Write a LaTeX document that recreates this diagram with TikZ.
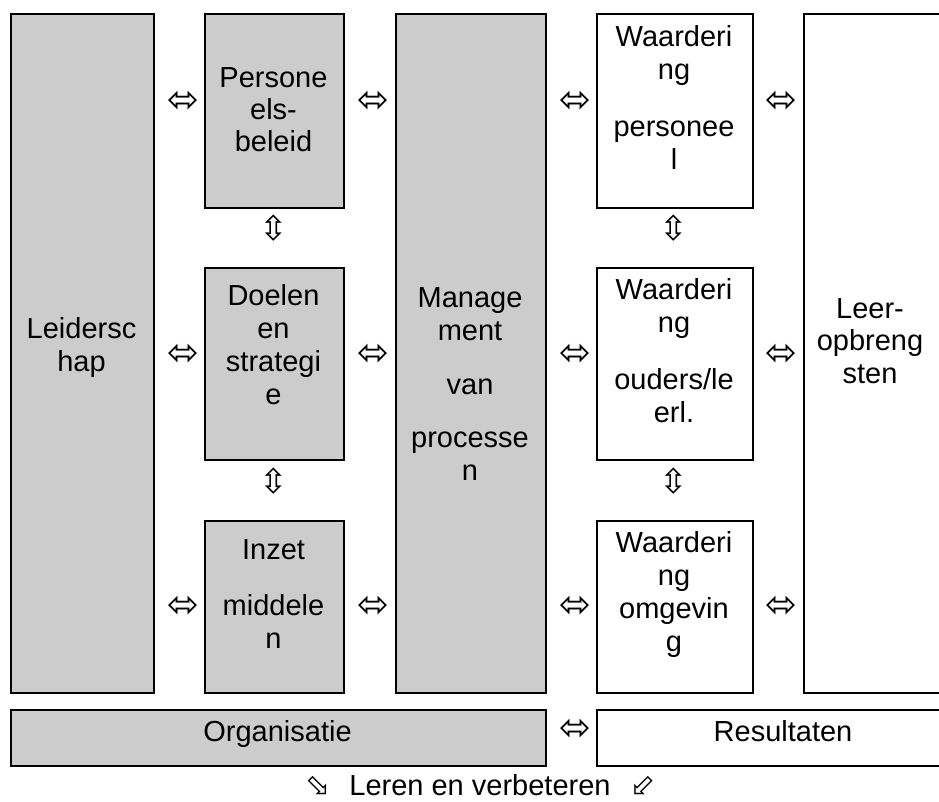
\documentclass[tikz,border=0pt]{standalone}
\usepackage{fontspec}
\setmainfont{Liberation Sans}
\newfontfamily\symfont{DejaVu Sans}
\definecolor{boxgray}{RGB}{204,204,204}
\begin{document}
\begin{tikzpicture}[x=1pt,y=-1pt,
  box/.style={draw=black, line width=2pt, inner sep=0pt, anchor=north west},
  gbox/.style={box, fill=boxgray},
  wbox/.style={box, fill=white},
  txt/.style={anchor=base, inner sep=0pt, font=\fontsize{29}{33}\selectfont},
  harr/.style={inner sep=0pt, font=\symfont\fontsize{38}{38}\selectfont},
  varr/.style={inner sep=0pt, font=\symfont\fontsize{34}{34}\selectfont},
  darr/.style={inner sep=0pt, font=\symfont\fontsize{30}{30}\selectfont}]
\useasboundingbox (0,0) rectangle (939,802);
\clip (0,0) rectangle (939,802);
% boxes
\node[gbox, minimum width=143pt, minimum height=679pt] (lead) at (10,13) {};
\node[gbox, minimum width=139pt, minimum height=194pt] (pers) at (204,13) {};
\node[gbox, minimum width=139pt, minimum height=192pt] (doel) at (204,267) {};
\node[gbox, minimum width=139pt, minimum height=172pt] (inz) at (204,520) {};
\node[gbox, minimum width=150pt, minimum height=679pt] (mgmt) at (395,13) {};
\node[wbox, minimum width=156pt, minimum height=194pt] (wp) at (596,13) {};
\node[wbox, minimum width=156pt, minimum height=192pt] (wo) at (596,267) {};
\node[wbox, minimum width=156pt, minimum height=172pt] (wm) at (596,520) {};
\node[wbox, minimum width=160pt, minimum height=679pt] (leer) at (803,13) {};
\node[gbox, minimum width=535pt, minimum height=56pt] (org) at (10,709) {};
\node[wbox, minimum width=380pt, minimum height=56pt] (res) at (596,709) {};
% texts
\node[txt] (t-lead1) at (81.5,338) {Leidersc};
\node[txt] (t-lead2) at (81.5,371) {hap};
\node[txt] (t-pers1) at (273.5,88) {Persone};
\node[txt] (t-pers2) at (273.5,120) {els-};
\node[txt] (t-pers3) at (273.5,152) {beleid};
\node[txt] (t-doel1) at (273.5,305) {Doelen};
\node[txt] (t-doel2) at (273.5,338) {en};
\node[txt] (t-doel3) at (273.5,371) {strategi};
\node[txt] (t-doel4) at (273.5,404) {e};
\node[txt] (t-inz1) at (273.5,559) {Inzet};
\node[txt] (t-inz2) at (273.5,615) {middele};
\node[txt] (t-inz3) at (273.5,648) {n};
\node[txt] (t-mg1) at (470,307) {Manage};
\node[txt] (t-mg2) at (470,340) {ment};
\node[txt] (t-mg3) at (470,394) {van};
\node[txt] (t-mg4) at (470,447) {processe};
\node[txt] (t-mg5) at (470,480) {n};
\node[txt] (t-wp1) at (674,47) {Waarderi};
\node[txt] (t-wp2) at (674,80) {ng};
\node[txt] (t-wp3) at (674,137) {personee};
\node[txt] (t-wp4) at (674,170) {l};
\node[txt] (t-wo1) at (674,299) {Waarderi};
\node[txt] (t-wo2) at (674,332) {ng};
\node[txt] (t-wo3) at (674,389) {ouders/le};
\node[txt] (t-wo4) at (674,422) {erl.};
\node[txt] (t-wm1) at (674,552) {Waarderi};
\node[txt] (t-wm2) at (674,585) {ng};
\node[txt] (t-wm3) at (674,618) {omgevin};
\node[txt] (t-wm4) at (674,651) {g};
\node[txt] (t-leer1) at (870,318) {Leer-};
\node[txt] (t-leer2) at (870,350) {opbreng};
\node[txt] (t-leer3) at (870,383) {sten};
\node[txt] (t-org) at (277.5,741) {Organisatie};
\node[txt] (t-res) at (783,741) {Resultaten};
\node[txt] (t-lev) at (480,795) {Leren en verbeteren};
\node[darr] (s-l) at (318,786) {⬂};
\node[darr] (s-r) at (643,786) {⬃};
% horizontal arrows
\foreach \y [count=\r] in {102,355,607}{
  \node[harr] (h1-\r) at (183,\y) {⬄};
  \node[harr] (h2-\r) at (373,\y) {⬄};
  \node[harr] (h3-\r) at (575,\y) {⬄};
  \node[harr] (h4-\r) at (781,\y) {⬄};
}
\node[harr] (h-bot) at (575,730) {⬄};
% vertical arrows
\node[varr] (v1) at (273.5,228) {⇳};
\node[varr] (v2) at (273.5,481) {⇳};
\node[varr] (v3) at (674,228) {⇳};
\node[varr] (v4) at (674,481) {⇳};
\end{tikzpicture}
\end{document}
